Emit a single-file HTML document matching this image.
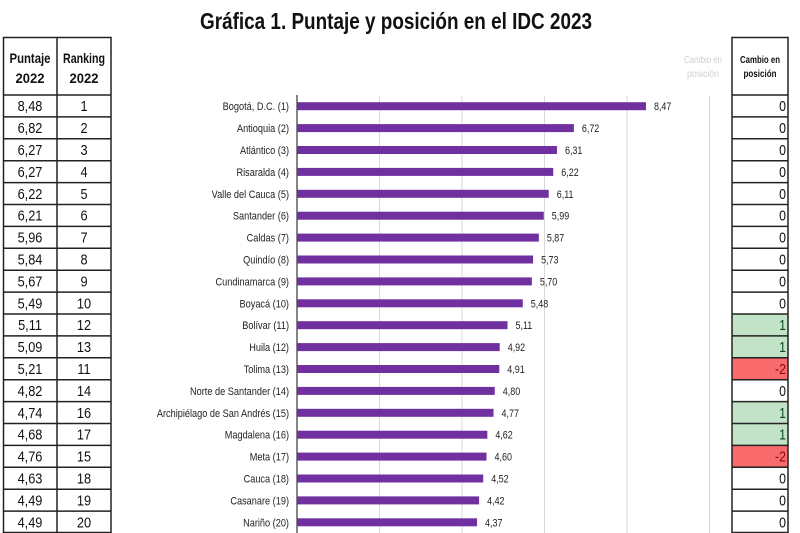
<!DOCTYPE html>
<html><head><meta charset="utf-8"><style>
html,body{margin:0;padding:0;background:#fff;width:800px;height:533px;overflow:hidden}
svg{display:block}
text{font-family:"Liberation Sans",Arial,sans-serif}
</style></head><body>
<svg width="800" height="533" viewBox="0 0 800 533" xmlns="http://www.w3.org/2000/svg">
<rect width="800" height="533" fill="#fff"/>
<text x="396" y="29" font-size="23" font-weight="bold" text-anchor="middle" textLength="392" lengthAdjust="spacingAndGlyphs" fill="#111">Gráfica 1. Puntaje y posición en el IDC 2023</text>

<!-- gridlines -->
<g stroke="#d9d9d9" stroke-width="1">
<line x1="379.5" y1="96" x2="379.5" y2="533"/>
<line x1="462" y1="96" x2="462" y2="533"/>
<line x1="544.5" y1="96" x2="544.5" y2="533"/>
<line x1="627" y1="96" x2="627" y2="533"/>
<line x1="709.5" y1="96" x2="709.5" y2="533"/>
</g>
<line x1="297" y1="95" x2="297" y2="533" stroke="#444" stroke-width="1.3"/>

<!-- ghost header -->
<g fill="#cfcfcf" font-size="10" text-anchor="middle">
<text x="703" y="63" textLength="38" lengthAdjust="spacingAndGlyphs">Cambio en</text>
<text x="703" y="77" textLength="32" lengthAdjust="spacingAndGlyphs">posición</text>
</g>

<g id="rows"></g>

<!-- table frames -->
<g fill="none" stroke="#222" stroke-width="1.5">
<rect x="3.5" y="37.5" width="107.5" height="495"/>
<line x1="57" y1="37.5" x2="57" y2="533"/>
<rect x="732" y="37.5" width="56" height="495"/>
</g>
<g font-size="14" font-weight="bold" text-anchor="middle" fill="#111">
<text x="30" y="63" textLength="41" lengthAdjust="spacingAndGlyphs">Puntaje</text>
<text x="30" y="83" textLength="29" lengthAdjust="spacingAndGlyphs">2022</text>
<text x="84" y="63" textLength="42" lengthAdjust="spacingAndGlyphs">Ranking</text>
<text x="84" y="83" textLength="29" lengthAdjust="spacingAndGlyphs">2022</text>
</g>
<g font-size="10.5" font-weight="bold" text-anchor="middle" fill="#111">
<text x="760" y="63" textLength="40" lengthAdjust="spacingAndGlyphs">Cambio en</text>
<text x="760" y="77" textLength="33" lengthAdjust="spacingAndGlyphs">posición</text>
</g>
</svg>
<script>
(function(){
var d=[
["Bogotá, D.C. (1)",8.47,"8,48","1",0],
["Antioquia (2)",6.72,"6,82","2",0],
["Atlántico (3)",6.31,"6,27","3",0],
["Risaralda (4)",6.22,"6,27","4",0],
["Valle del Cauca (5)",6.11,"6,22","5",0],
["Santander (6)",5.99,"6,21","6",0],
["Caldas (7)",5.87,"5,96","7",0],
["Quindío (8)",5.73,"5,84","8",0],
["Cundinamarca (9)",5.70,"5,67","9",0],
["Boyacá (10)",5.48,"5,49","10",0],
["Bolívar (11)",5.11,"5,11","12",1],
["Huila (12)",4.92,"5,09","13",1],
["Tolima (13)",4.91,"5,21","11",-2],
["Norte de Santander (14)",4.80,"4,82","14",0],
["Archipiélago de San Andrés (15)",4.77,"4,74","16",1],
["Magdalena (16)",4.62,"4,68","17",1],
["Meta (17)",4.60,"4,76","15",-2],
["Cauca (18)",4.52,"4,63","18",0],
["Casanare (19)",4.42,"4,49","19",0],
["Nariño (20)",4.37,"4,49","20",0]
];
var NS="http://www.w3.org/2000/svg";
var g=document.getElementById("rows");
function el(t,a,txt){var e=document.createElementNS(NS,t);for(var k in a)e.setAttribute(k,a[k]);if(txt!==undefined)e.textContent=txt;g.appendChild(e);return e;}
for(var i=0;i<d.length;i++){
 var r=d[i];var top=95+21.9*i;var c=top+11.2;
 var fill="#fff",tc="#111";
 if(r[4]>0){fill="#c2e3c8";tc="#0b4f1e";}
 if(r[4]<0){fill="#f86a6b";tc="#8a0a0a";}
 el("rect",{x:732,y:top,width:56,height:21.9,fill:fill});
 el("line",{x1:732,y1:top,x2:788,y2:top,stroke:"#222","stroke-width":1.5});
 el("text",{x:0,y:0,"font-size":14.5,"text-anchor":"end",fill:tc,transform:"translate(786,"+(c+5)+") scale(0.85,1)"},String(r[4]));
 el("line",{x1:3.5,y1:top,x2:111,y2:top,stroke:"#222","stroke-width":1.5});
 el("text",{x:0,y:0,"font-size":14.5,"text-anchor":"middle",fill:"#111",transform:"translate(30,"+(c+5)+") scale(0.88,1)"},r[2]);
 el("text",{x:0,y:0,"font-size":14.5,"text-anchor":"middle",fill:"#111",transform:"translate(84,"+(c+5)+") scale(0.88,1)"},r[3]);
 var w=r[1]*41.2;
 el("rect",{x:297,y:c-4,width:w,height:8,fill:"#7030a0"});
 el("text",{x:0,y:0,"font-size":11.2,"text-anchor":"end",fill:"#222",transform:"translate(289,"+(c+4)+") scale(0.82,1)"},r[0]);
 el("text",{x:0,y:0,"font-size":11.2,"text-anchor":"start",fill:"#222",transform:"translate("+(297+w+8)+","+(c+4)+") scale(0.8,1)"},r[1].toFixed(2).replace(".",","));
}
})();
</script>
</body></html>
